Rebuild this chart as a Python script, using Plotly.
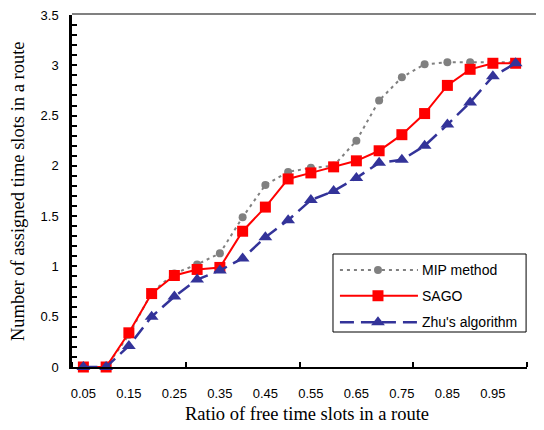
import plotly.graph_objects as go

ratio = [0.05, 0.10, 0.15, 0.20, 0.25, 0.30, 0.35, 0.40, 0.45, 0.50,
         0.55, 0.60, 0.65, 0.70, 0.75, 0.80, 0.85, 0.90, 0.95, 1.00]
mip = [0, 0, 0.32, 0.74, 0.93, 1.02, 1.13, 1.49, 1.81, 1.94,
       1.98, 2.00, 2.25, 2.65, 2.88, 3.01, 3.03, 3.03, 3.03, 3.03]
sago = [0, 0, 0.34, 0.73, 0.91, 0.97, 0.99, 1.35, 1.59, 1.87,
        1.93, 1.99, 2.05, 2.15, 2.31, 2.52, 2.80, 2.96, 3.02, 3.02]
zhu = [0, 0, 0.21, 0.50, 0.70, 0.87, 0.96, 1.08, 1.29, 1.46,
       1.66, 1.75, 1.88, 2.03, 2.06, 2.20, 2.41, 2.63, 2.89, 3.02]
x_tick_vals = [0.05, 0.15, 0.25, 0.35, 0.45, 0.55, 0.65, 0.75, 0.85, 0.95]
x_tick_text = ["0.05", "0.15", "0.25", "0.35", "0.45", "0.55", "0.65", "0.75", "0.85", "0.95"]
y_tick_vals = [0, 0.5, 1, 1.5, 2, 2.5, 3, 3.5]
y_tick_text = ["0", "0.5", "1", "1.5", "2", "2.5", "3", "3.5"]
series_names = ["MIP method", "SAGO", "Zhu's algorithm"]

GREY = "#808080"
RED = "#FF0000"
NAVY = "#333399"

styles = [
    dict(line=dict(color=GREY, width=2, dash="3px,4px"),
         marker=dict(symbol="circle", size=8, color=GREY)),
    dict(line=dict(color=RED, width=2),
         marker=dict(symbol="square", size=11, color=RED)),
    dict(line=dict(color=NAVY, width=2.5, dash="14px,7px"),
         marker=dict(symbol="triangle-up", size=12, color=NAVY)),
]

fig = go.Figure()
for name, vals, st in zip(series_names, [mip, sago, zhu], styles):
    fig.add_trace(go.Scatter(x=ratio, y=vals, mode="lines+markers", name=name,
                             line=st["line"], marker=st["marker"],
                             showlegend=False, cliponaxis=False))

# custom legend drawn on an inset axis pair
legend_rows = [0.795, 0.465, 0.124]
for name, row, st in zip(series_names, legend_rows, styles):
    fig.add_trace(go.Scatter(x=[0.036, 0.44], y=[row, row], mode="lines",
                             line=st["line"], xaxis="x2", yaxis="y2",
                             showlegend=False, hoverinfo="skip"))
    fig.add_trace(go.Scatter(x=[0.233], y=[row], mode="markers",
                             marker=st["marker"], xaxis="x2", yaxis="y2",
                             showlegend=False, hoverinfo="skip"))
    fig.add_annotation(x=0.452, y=row, xref="x2", yref="y2", text=name,
                       showarrow=False, xanchor="left", yanchor="middle",
                       font=dict(family="Liberation Sans, Arial", size=14, color="#000"))

tickfont = dict(family="Liberation Sans, Arial", size=13, color="#000")
fig.update_layout(
    width=536, height=422,
    margin=dict(l=64, r=17, t=7, b=63, autoexpand=False),
    paper_bgcolor="white", plot_bgcolor="white",
    xaxis=dict(range=[0.025, 1.025], tickvals=x_tick_vals, ticktext=x_tick_text,
               ticks="", showgrid=False, zeroline=False, automargin=False,
               showline=True, linecolor="#000", linewidth=2,
               tickfont=tickfont, ticklabelstandoff=13, ticklabeloverflow="allow",
               minor=dict(tick0=0.025, dtick=0.25, ticks="inside", ticklen=5,
                          tickcolor="#000", tickwidth=1.5, showgrid=False)),
    yaxis=dict(range=[0, 3.5], tickvals=y_tick_vals, ticktext=y_tick_text,
               ticks="inside", ticklen=5, tickcolor="#000", tickwidth=1.5,
               showgrid=False, zeroline=False, automargin=False,
               showline=True, linecolor="#000", linewidth=2.5,
               tickfont=tickfont, ticklabelstandoff=8, ticklabeloverflow="allow",
               minor=dict(dtick=0.1, ticks="inside", ticklen=5,
                          tickcolor="#000", tickwidth=1.5, showgrid=False)),
    xaxis2=dict(domain=[0.5736, 0.998], range=[0, 1], anchor="y2",
                visible=False, fixedrange=True, automargin=False),
    yaxis2=dict(domain=[0.0994, 0.321], range=[0, 1], anchor="x2",
                visible=False, fixedrange=True, automargin=False),
    shapes=[
        dict(type="line", xref="paper", yref="paper", x0=0, x1=1.04, y0=1.003, y1=1.003,
             line=dict(color=GREY, width=2)),
        dict(type="rect", xref="paper", yref="paper", x0=0.5736, x1=0.998,
             y0=0.0994, y1=0.321, line=dict(color="#000", width=1),
             fillcolor="rgba(0,0,0,0)"),
    ],
)
fig.add_annotation(x=-0.1187, y=0.5, xref="paper", yref="paper",
                   text="Number of assigned time slots in a route", textangle=-90,
                   showarrow=False, xanchor="center", yanchor="middle",
                   font=dict(family="Liberation Serif, Times New Roman", size=18.5, color="#000"))
fig.add_annotation(x=0.516, y=-0.1335, xref="paper", yref="paper",
                   text="Ratio of free time slots in a route",
                   showarrow=False, xanchor="center", yanchor="middle",
                   font=dict(family="Liberation Serif, Times New Roman", size=18.5, color="#000"))

fig.write_html("out.html")
